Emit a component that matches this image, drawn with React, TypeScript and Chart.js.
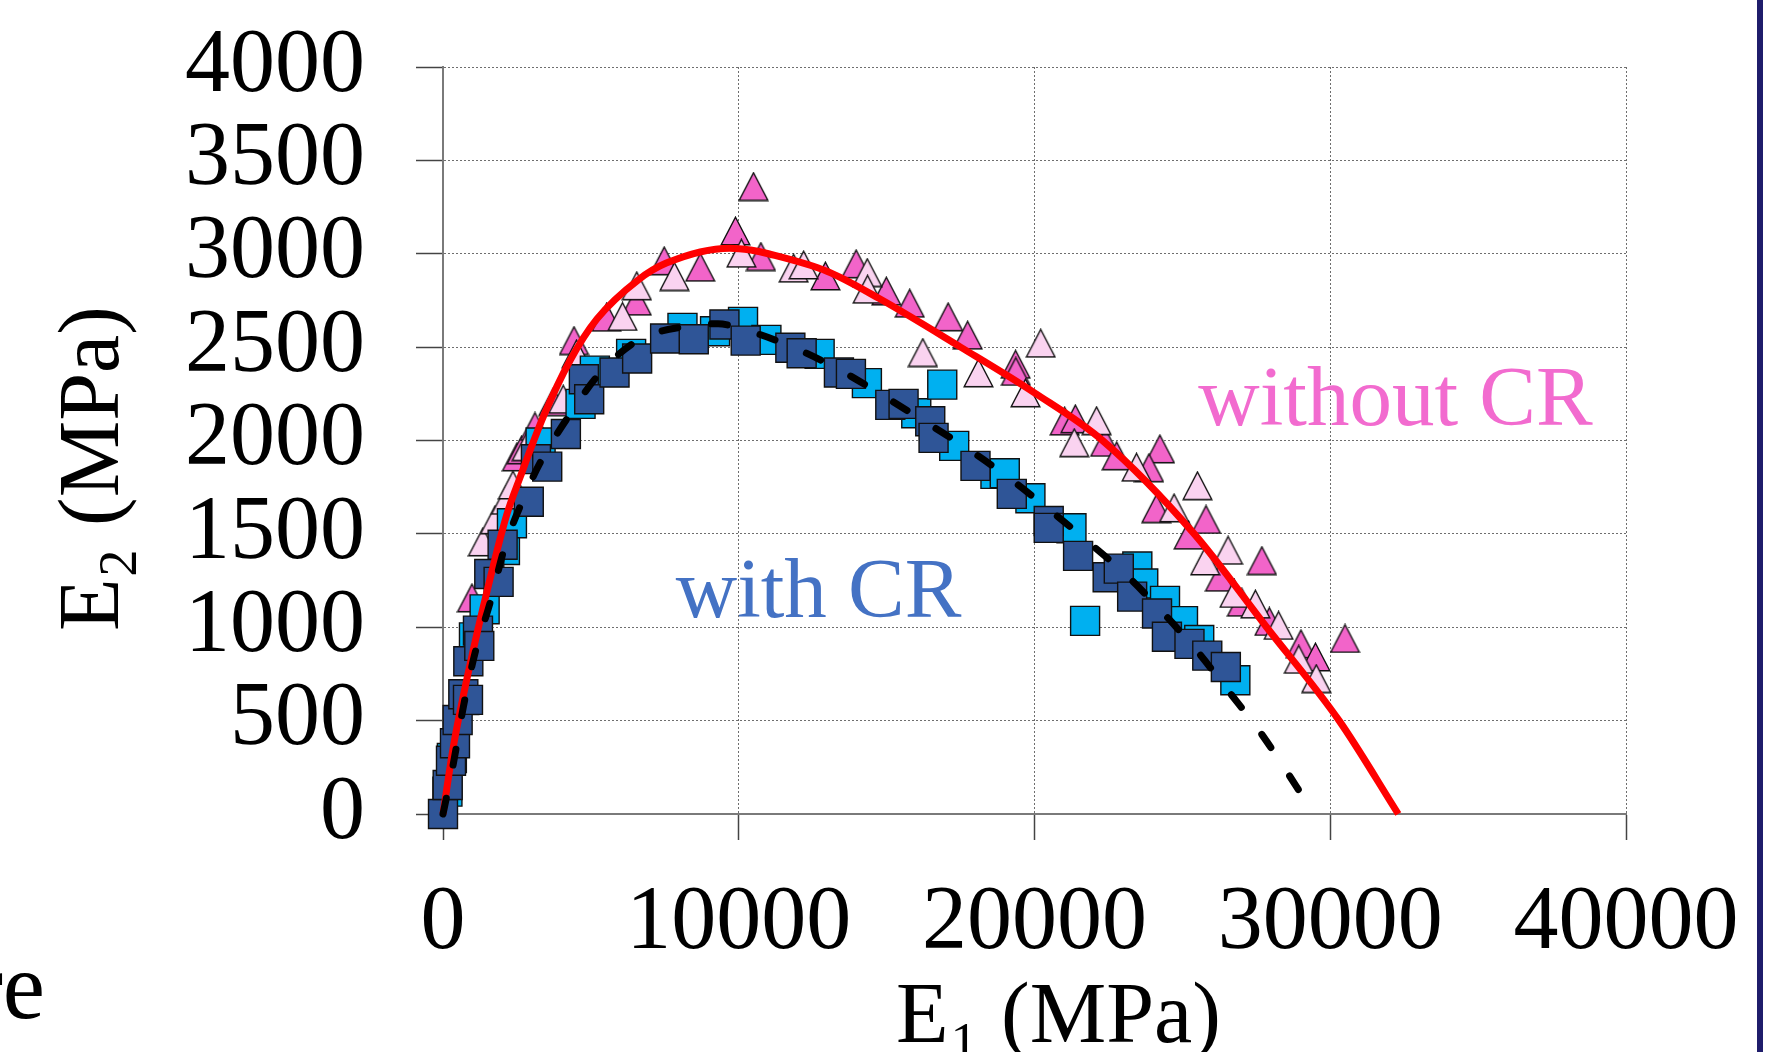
import React, { useEffect, useRef } from 'react';
import { Chart, registerables } from 'chart.js';

Chart.register(...registerables);

const FONT = '"Liberation Serif", "DejaVu Serif", serif';

// Axis ticks
const xTicks = [0, 10000, 20000, 30000, 40000];
const yTicks = [0, 500, 1000, 1500, 2000, 2500, 3000, 3500, 4000];

// without CR – magenta triangles
const magentaX = [980, 2500, 2660, 3110, 3730, 4430, 5530, 6550, 7480, 8700, 9890, 10500, 10750, 12930, 13970, 14990, 15780, 17080, 17740, 19360, 19370, 21020, 21380, 22390, 22780, 24240, 23870, 24120, 25800, 25210, 27690, 26270, 27010, 27940, 29010, 29500, 30500];
const magentaY = [1157, 1912, 1950, 2075, 2208, 2535, 2660, 2746, 2962, 2928, 3122, 3360, 2985, 2881, 2946, 2800, 2735, 2662, 2564, 2408, 2370, 2104, 2116, 1990, 1918, 1955, 1854, 1635, 1577, 1493, 1357, 1268, 1134, 1031, 911, 841, 940];

// without CR – light pink triangles
const pinkX = [1350, 1760, 2130, 2365, 2830, 4065, 4516, 6070, 6553, 7826, 10090, 11857, 12195, 14346, 14357, 16225, 18106, 19694, 20210, 22100, 21345, 23450, 25510, 24720, 26545, 25772, 26760, 27470, 28253, 28935, 29528];
const pinkY = [1457, 1575, 1680, 1762, 1967, 2221, 2464, 2664, 2828, 2878, 3003, 2923, 2940, 2899, 2810, 2471, 2362, 2255, 2521, 2106, 1988, 1857, 1758, 1639, 1412, 1355, 1181, 1124, 1010, 828, 725];

// with CR – light blue squares
const lightX = [150, 300, 720, 1047, 1408, 2094, 2331, 3300, 4651, 5135, 6361, 8097, 9199, 10145, 10935, 12735, 14333, 16002, 16881, 17285, 18680, 18995, 19862, 21250, 21711, 23477, 23677, 24413, 25021, 25570, 26791];
const lightY = [120, 300, 610, 946, 1096, 1414, 1557, 1989, 2196, 2374, 2464, 2603, 2585, 2635, 2539, 2464, 2307, 2146, 2299, 1971, 1821, 1825, 1691, 1530, 1034, 1325, 1234, 1141, 1033, 932, 716];

// with CR – dark blue squares
const darkX = [0, 158, 270, 405, 495, 687, 845, 856, 1182, 1227, 1565, 1880, 2016, 2900, 3142, 3524, 4155, 4763, 4943, 5800, 6564, 7510, 8479, 9516, 10235, 11745, 12127, 13387, 13793, 15124, 15573, 16475, 16587, 18005, 19232, 20481, 20481, 21474, 22474, 22850, 23302, 24143, 24478, 25240, 25842, 26470];
const darkY = [0, 155, 285, 379, 503, 641, 611, 818, 982, 900, 1285, 1243, 1442, 1672, 1900, 1860, 2035, 2328, 2221, 2364, 2439, 2546, 2542, 2621, 2535, 2497, 2467, 2364, 2357, 2191, 2196, 2103, 2014, 1864, 1714, 1569, 1532, 1382, 1268, 1314, 1164, 1074, 949, 911, 848, 787];

// fit without CR – red line
const redX = [0, 350, 900, 1500, 2150, 2600, 3400, 4300, 5200, 6600, 7550, 9700, 10400, 11000, 13000, 14750, 17500, 20000, 22300, 25400, 27850, 30300, 32300];
const redY = [0, 360, 790, 1200, 1600, 1800, 2130, 2430, 2650, 2860, 2950, 3030, 3020, 3000, 2905, 2760, 2500, 2255, 2000, 1500, 1000, 500, 0];

// fit with CR – black dashed line
const blackX = [0, 350, 690, 1080, 1590, 2090, 2750, 3280, 4290, 5300, 6600, 8350, 9300, 10050, 11650, 13250, 14750, 16200, 17700, 19130, 20480, 21830, 23120, 24350, 25500, 26600, 27620, 29460];
const blackY = [0, 270, 575, 860, 1130, 1430, 1700, 1880, 2140, 2360, 2537, 2615, 2625, 2600, 2512, 2392, 2253, 2110, 1960, 1800, 1632, 1455, 1277, 1077, 872, 650, 441, 0];

// annotation labels
const labelTexts = ['with CR', 'without CR'];
const labelX = [7870, 25540];
const labelY = [1055, 2083];

function zip(xs: number[], ys: number[]) {
  return xs.map((x, i) => ({ x, y: ys[i] }));
}

function makeTriangle(fill: string): HTMLCanvasElement {
  const c = document.createElement('canvas');
  c.width = 31;
  c.height = 30;
  const g = c.getContext('2d')!;
  g.beginPath();
  g.moveTo(15.5, 1.2);
  g.lineTo(29.8, 28.8);
  g.lineTo(1.2, 28.8);
  g.closePath();
  g.fillStyle = fill;
  g.fill();
  g.lineWidth = 1.4;
  g.strokeStyle = '#111';
  g.stroke();
  return c;
}

function drawSubTitle(ctx: CanvasRenderingContext2D, x: number, y: number, sub: string) {
  ctx.textAlign = 'left';
  ctx.textBaseline = 'alphabetic';
  ctx.font = `86px ${FONT}`;
  ctx.fillText('E', x, y);
  let cx = x + ctx.measureText('E').width + 2;
  ctx.font = `54px ${FONT}`;
  ctx.fillText(sub, cx, y + 18);
  cx += ctx.measureText(sub).width + 2;
  ctx.font = `86px ${FONT}`;
  ctx.fillText(' (MPa)', cx, y);
}

function zeroPad(s: any) {
  s.paddingTop = 0;
  s.paddingBottom = 0;
  s.paddingLeft = 0;
  s.paddingRight = 0;
}

export default function App() {
  const ref = useRef<HTMLCanvasElement>(null);

  useEffect(() => {
    document.body.style.margin = '0';
    const canvas = ref.current!;
    const magentaTri = makeTriangle('#F264C9');
    const pinkTri = makeTriangle('#FAD3F0');

    const decor = {
      id: 'decor',
      afterDatasetsDraw(chart: any) {
        const ctx = chart.ctx as CanvasRenderingContext2D;
        const xs = chart.scales.x;
        const ys = chart.scales.y;
        ctx.save();
        ctx.font = `85px ${FONT}`;
        ctx.textAlign = 'left';
        ctx.textBaseline = 'alphabetic';
        const colors = ['#4472C4', '#F26BCF'];
        labelTexts.forEach((t, i) => {
          ctx.fillStyle = colors[i];
          ctx.fillText(t, xs.getPixelForValue(labelX[i]), ys.getPixelForValue(labelY[i]));
        });
        ctx.restore();
      },
      afterDraw(chart: any) {
        const ctx = chart.ctx as CanvasRenderingContext2D;
        ctx.save();
        ctx.fillStyle = '#1F1D6B';
        ctx.fillRect(1757, 0, 6, chart.height);
        ctx.fillStyle = '#000';
        ctx.font = `95px ${FONT}`;
        ctx.textAlign = 'right';
        ctx.textBaseline = 'alphabetic';
        ctx.fillText('re', 45, 1018);
        // x title
        drawSubTitle(ctx, 896, 1042, '1');
        // y title
        ctx.translate(118, 631);
        ctx.rotate(-Math.PI / 2);
        drawSubTitle(ctx, 0, 0, '2');
        ctx.restore();
      },
    };

    const gridCommon = {
      color: '#6e6e6e',
      lineWidth: 1,
      tickColor: '#444',
      tickWidth: 1.5,
    };
    const borderCommon = { color: '#7a7a7a', width: 2, dash: [2, 2] };
    const fmt = (v: any) => String(v);

    const chart = new Chart(canvas, {
      type: 'scatter',
      data: {
        datasets: [
          {
            label: 'fit with CR',
            data: zip(blackX, blackY),
            showLine: true,
            borderColor: '#000',
            borderWidth: 7,
            borderDash: [16, 34],
            borderCapStyle: 'round',
            pointRadius: 0,
            cubicInterpolationMode: 'monotone',
            order: 0,
            clip: false,
          },
          {
            label: 'fit without CR',
            data: zip(redX, redY),
            showLine: true,
            borderColor: '#FF0000',
            borderWidth: 7,
            pointRadius: 0,
            cubicInterpolationMode: 'monotone',
            order: 1,
            clip: false,
          },
          {
            label: 'with CR (dark)',
            data: zip(darkX, darkY),
            pointStyle: 'rect',
            pointRadius: 20.5,
            backgroundColor: '#2F5597',
            borderColor: '#111',
            borderWidth: 1.4,
            order: 2,
            clip: false,
          },
          {
            label: 'with CR (light)',
            data: zip(lightX, lightY),
            pointStyle: 'rect',
            pointRadius: 20.5,
            backgroundColor: '#00B0F0',
            borderColor: '#111',
            borderWidth: 1.4,
            order: 3,
            clip: false,
          },
          {
            label: 'without CR (pink)',
            data: zip(pinkX, pinkY),
            pointStyle: pinkTri,
            order: 4,
            clip: false,
          },
          {
            label: 'without CR (magenta)',
            data: zip(magentaX, magentaY),
            pointStyle: magentaTri,
            order: 5,
            clip: false,
          },
        ] as any,
      },
      options: {
        responsive: false,
        animation: false,
        events: [],
        layout: { padding: { left: 0, top: 67, right: 141, bottom: 0 } },
        plugins: { legend: { display: false }, tooltip: { enabled: false } },
        scales: {
          x: {
            type: 'linear',
            min: xTicks[0],
            max: xTicks[xTicks.length - 1],
            afterBuildTicks: (s: any) => { s.ticks = xTicks.map((v) => ({ value: v })); },
            ticks: {
              font: { family: FONT, size: 90 },
              color: '#000',
              padding: 30,
              maxRotation: 0,
              autoSkip: false,
              callback: fmt,
            },
            grid: { ...gridCommon, tickLength: 26 },
            border: borderCommon,
            afterFit: (s: any) => { s.height = 238; zeroPad(s); },
          },
          y: {
            type: 'linear',
            min: yTicks[0],
            max: yTicks[yTicks.length - 1],
            afterBuildTicks: (s: any) => { s.ticks = yTicks.map((v) => ({ value: v })); },
            ticks: {
              font: { family: FONT, size: 90 },
              color: '#000',
              padding: 51,
              autoSkip: false,
              callback: fmt,
            },
            grid: { ...gridCommon, tickLength: 27 },
            border: borderCommon,
            afterFit: (s: any) => { s.width = 443; zeroPad(s); },
          },
        },
      } as any,
      plugins: [decor],
    });
    return () => chart.destroy();
  }, []);

  return (
    <div style={{ position: 'fixed', left: 0, top: 0, width: 1767, height: 1052, background: '#fff' }}>
      <canvas ref={ref} width={1767} height={1052} style={{ width: 1767, height: 1052, display: 'block' }} />
    </div>
  );
}
